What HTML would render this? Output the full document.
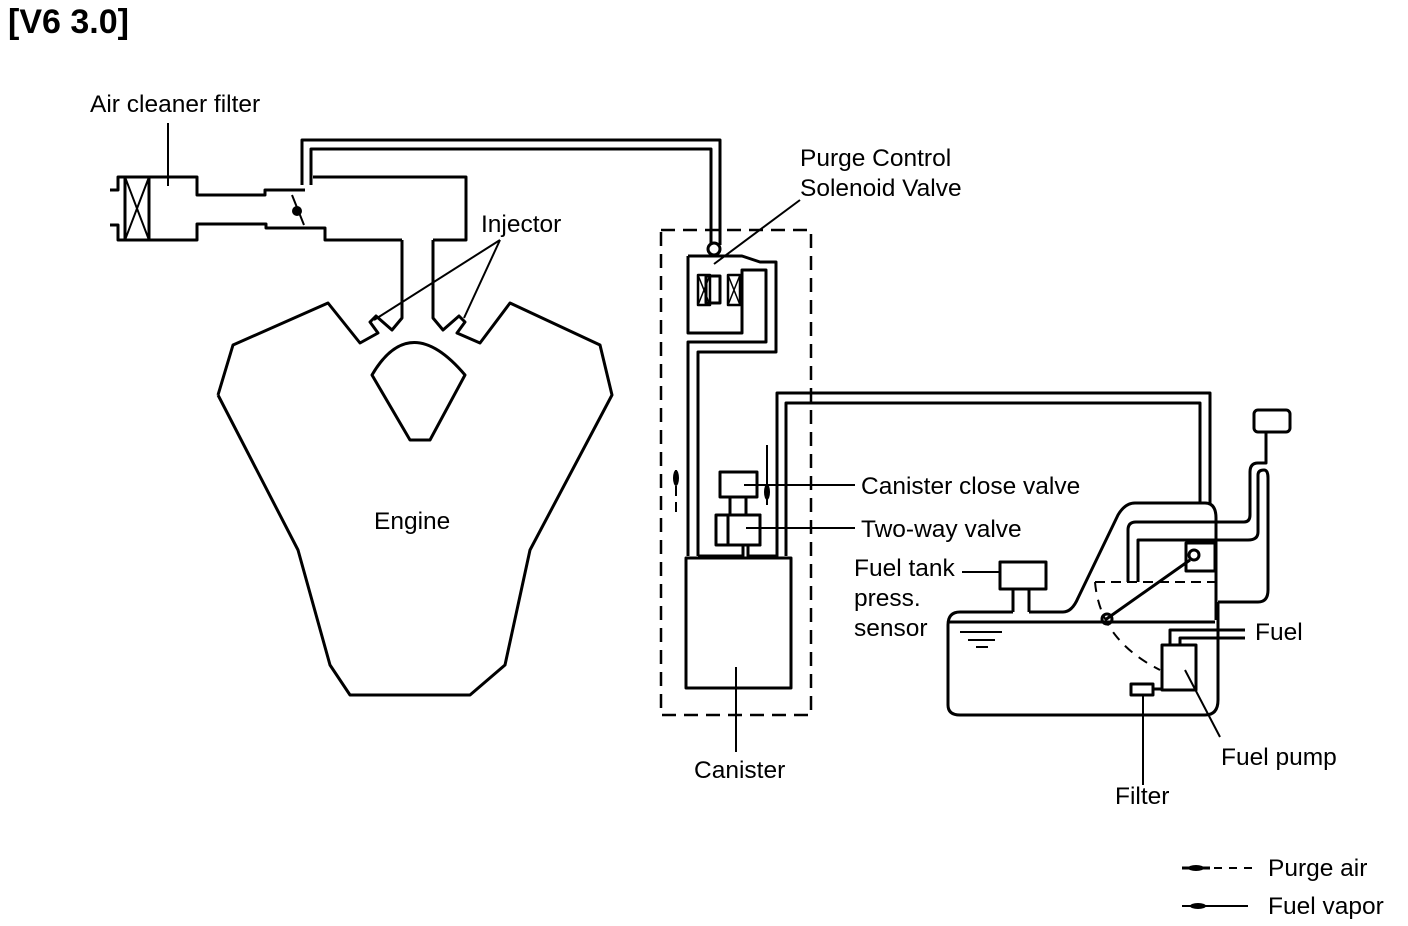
<!DOCTYPE html>
<html><head><meta charset="utf-8"><style>
html,body{margin:0;padding:0;background:#fff;}
svg{display:block;}
text{font-family:"Liberation Sans",Arial,sans-serif;font-size:24.5px;fill:#000;}
</style></head><body>
<svg width="1408" height="926" viewBox="0 0 1408 926" xmlns="http://www.w3.org/2000/svg">
<g fill="none" stroke="#000" stroke-width="3" stroke-linejoin="round">
<!-- air cleaner -->
<path d="M110,190 H118 V177 H197 V195 H265 V190 H305 M110,225 H118 V240 H197 V224 H266 V228 H325 V240 H402"/>
<path d="M313,177 H466 V240 H433"/>
<rect x="125" y="177" width="24" height="63"/>
<path d="M125,177 L149,240 M149,177 L125,240" stroke-width="2"/>
<line x1="168" y1="123" x2="168" y2="186" stroke-width="2"/>
<path d="M292,195 L304,225" stroke-width="2"/>
<circle cx="297" cy="211" r="5" fill="#000" stroke="none"/>
<!-- purge pipe -->
<path d="M302,185 V140 H720 V245"/>
<path d="M311,185 V149 H711 V245"/>
<!-- engine -->
<path d="M218,395 L233,345 L328,303 L360,343 L378,333 L370,322 L376,316 L392,330 L402,318 V240"/>
<path d="M433,240 V318 L443,330 L459,316 L465,322 L457,333 L480,343 L510,303 L600,345 L612,395 L530,550 L505,665 L470,695 L350,695 L330,665 L298,550 L218,395"/>
<path d="M372,375 Q410,310 465,375 L430,440 H410 Z"/>
<line x1="374" y1="320" x2="500" y2="240" stroke-width="2"/>
<line x1="464" y1="318" x2="500" y2="240" stroke-width="2"/>
<!-- canister dashed box -->
<rect x="661" y="230" width="150" height="485" stroke-dasharray="14,8" stroke-width="2.5"/>
<!-- solenoid -->
<path d="M688,256 H742 L760,262 H776 V352 H698 V556"/>
<path d="M688,256 V333 H742 V270 H766 V342 H688 V556"/>
<rect x="698" y="275" width="12" height="30" stroke-width="2.5"/>
<rect x="706" y="276" width="14" height="27"/>
<rect x="728" y="275" width="12" height="30" stroke-width="2.5"/>
<path d="M698,275 L710,305 M710,275 L698,305 M728,275 L740,305 M740,275 L728,305" stroke-width="1.5"/>
<circle cx="714" cy="249" r="6"/>
<line x1="714" y1="264" x2="800" y2="200" stroke-width="2"/>
<!-- canister -->
<rect x="686" y="558" width="105" height="130"/>
<path d="M698,556 H743 V545 H728 V515 H760 V545 H748 V556 H777 V393 H1210 V503"/>
<path d="M786,556 V403 H1200 V503"/>
<rect x="720" y="472" width="37" height="25"/>
<rect x="730" y="497" width="16" height="18"/>
<rect x="716" y="515" width="44" height="30"/>
<line x1="744" y1="485" x2="855" y2="485" stroke-width="2"/>
<line x1="746" y1="528" x2="855" y2="528" stroke-width="2"/>
<line x1="736" y1="667" x2="736" y2="752" stroke-width="2"/>
<path d="M767,445 V505" stroke-width="2"/>
<path d="M676,470 V515" stroke-width="2" stroke-dasharray="10,6"/>
<!-- tank -->
<path d="M1013,612 H960 Q948,612 948,625 V705 Q948,715 960,715 H1205 Q1218,715 1218,700 V602"/>
<path d="M1029,612 H1063 Q1072,612 1078,598 L1118,515 Q1125,503 1135,503 H1205 Q1216,503 1216,518 V620"/>
<path d="M1013,612 V588 M1029,612 V588"/>
<rect x="1000" y="562" width="46" height="27"/>
<line x1="962" y1="572" x2="1000" y2="572" stroke-width="2"/>
<line x1="948" y1="622" x2="1215" y2="622"/>
<path d="M960,632 H1002 M968,640 H995 M976,647 H988" stroke-width="2"/>
<path d="M1128,582 V530 Q1128,522 1136,522 H1244 Q1250,522 1250,515 V472 Q1250,463 1258,463 H1266 V432"/>
<path d="M1138,582 V540 H1248 Q1258,540 1258,532 V475 Q1258,470 1264,470 Q1268,470 1268,478 V590 Q1268,602 1258,602 H1218"/>
<rect x="1254" y="410" width="36" height="22" rx="4"/>
<path d="M1095,582 H1218" stroke-dasharray="10,6" stroke-width="2"/>
<rect x="1186" y="543" width="29" height="28"/>
<circle cx="1194" cy="555" r="5"/>
<line x1="1105" y1="620" x2="1190" y2="560"/>
<circle cx="1107" cy="619" r="5"/>
<path d="M1095,582 Q1100,640 1160,670" stroke-dasharray="10,8" stroke-width="2"/>
<rect x="1162" y="645" width="34" height="45"/>
<path d="M1170,645 V630 H1245 M1180,645 V638 H1245"/>
<rect x="1131" y="684" width="22" height="11"/>
<path d="M1153,689 H1162"/>
<line x1="1143" y1="695" x2="1143" y2="785" stroke-width="2"/>
<line x1="1185" y1="670" x2="1220" y2="737" stroke-width="2"/>
<!-- legend -->
<path d="M1182,868 H1210" stroke-width="3"/>
<path d="M1214,868 H1252" stroke-dasharray="8,7" stroke-width="2"/>
<path d="M1182,906 H1248" stroke-width="2"/>
</g>
<ellipse cx="1196" cy="868" rx="8" ry="3" fill="#000"/>
<ellipse cx="1198" cy="906" rx="8" ry="3" fill="#000"/>
<ellipse cx="676" cy="478" rx="3" ry="8" fill="#000"/>
<ellipse cx="767" cy="492" rx="3" ry="8" fill="#000"/>
<text x="8" y="33" style="font-size:34px;font-weight:bold">[V6 3.0]</text>
<text x="90" y="112">Air cleaner filter</text>
<text x="800" y="166">Purge Control</text>
<text x="800" y="196">Solenoid Valve</text>
<text x="481" y="232">Injector</text>
<text x="374" y="529">Engine</text>
<text x="861" y="494">Canister close valve</text>
<text x="861" y="537">Two-way valve</text>
<text x="854" y="576">Fuel tank</text>
<text x="854" y="606">press.</text>
<text x="854" y="636">sensor</text>
<text x="1255" y="640">Fuel</text>
<text x="1221" y="765">Fuel pump</text>
<text x="694" y="778">Canister</text>
<text x="1115" y="804">Filter</text>
<text x="1268" y="876">Purge air</text>
<text x="1268" y="914">Fuel vapor</text>
</svg>
</body></html>
